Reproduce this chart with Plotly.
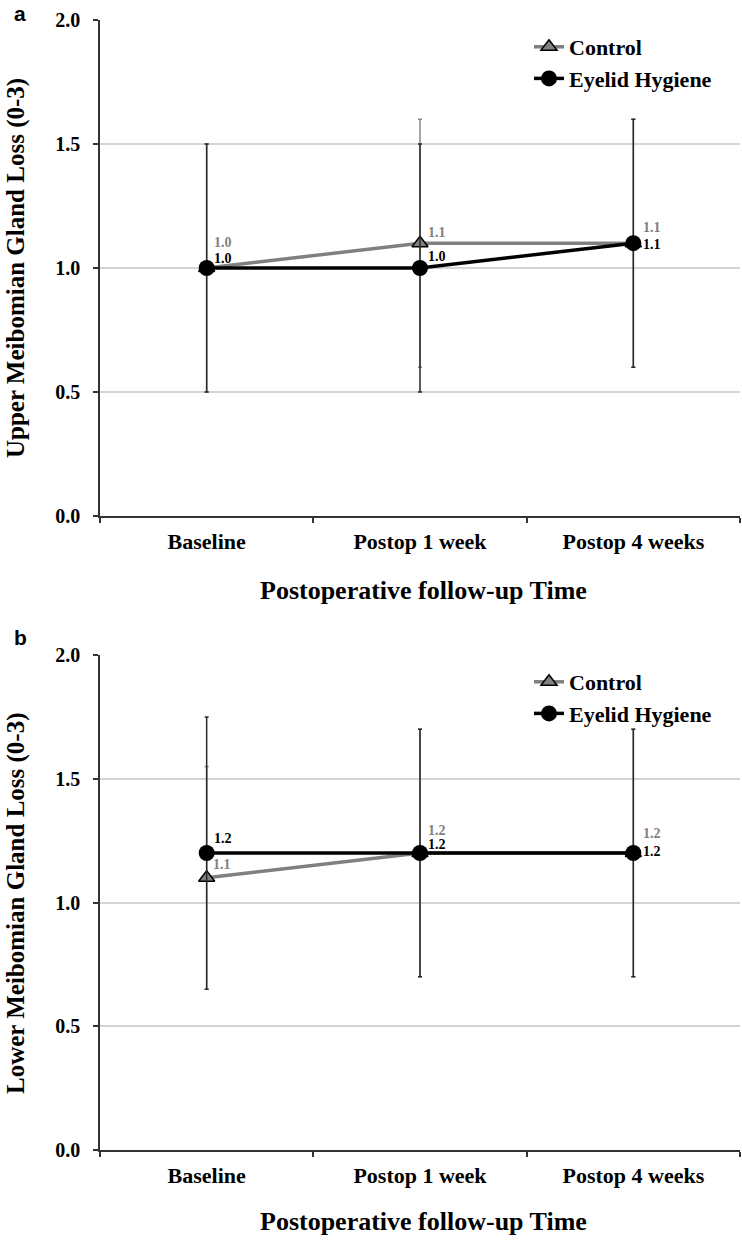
import plotly.graph_objects as go

categories = ["Baseline", "Postop 1 week", "Postop 4 weeks"]

# Panel a: Upper Meibomian Gland Loss
upper_control = [1.0, 1.1, 1.1]
upper_control_err = [0.5, 0.5, 0.5]
upper_eyelid = [1.0, 1.0, 1.1]
upper_eyelid_err = [0.5, 0.5, 0.5]

# Panel b: Lower Meibomian Gland Loss
lower_control = [1.1, 1.2, 1.2]
lower_control_err = [0.45, 0.5, 0.5]
lower_eyelid = [1.2, 1.2, 1.2]
lower_eyelid_err = [0.55, 0.5, 0.5]

y_ticks = [0.0, 0.5, 1.0, 1.5, 2.0]

# label offsets (pixels): (xshift, yshift)
upper_control_off = [(5, 26), (6, 11), (8, 16)]
upper_eyelid_off = [(5, 10), (6, 12), (8, -1)]
lower_control_off = [(4, 13), (6, 23), (8, 20)]
lower_eyelid_off = [(5, 15), (6, 9), (8, 2)]

SERIF = "Liberation Serif, Times New Roman, serif"
GRAY = "#808080"

W, H = 742, 1240
ML, MR, MT, MB = 100, 2, 20, 90
PW, PH = W - ML - MR, H - MT - MB


def px(xp):
    return (xp - ML) / PW


def py(yp):
    return (H - MB - yp) / PH


fig = go.Figure()


def add_panel(xa, ya, legend, ctrl, ctrl_err, eye, eye_err):
    fig.add_trace(go.Scatter(
        x=categories, y=ctrl, name="Control", mode="lines+markers",
        xaxis=xa, yaxis=ya, legend=legend,
        line=dict(color=GRAY, width=3.5),
        marker=dict(symbol="triangle-up", size=14, color=GRAY,
                    line=dict(color="black", width=1.5)),
        error_y=dict(type="data", array=ctrl_err, color="#8a8a8a",
                     thickness=1.5, width=2),
    ))
    fig.add_trace(go.Scatter(
        x=categories, y=eye, name="Eyelid Hygiene", mode="lines+markers",
        xaxis=xa, yaxis=ya, legend=legend,
        line=dict(color="black", width=3.5),
        marker=dict(symbol="circle", size=16, color="black"),
        error_y=dict(type="data", array=eye_err, color="#2a2a2a",
                     thickness=1.5, width=2),
    ))


add_panel("x", "y", "legend", upper_control, upper_control_err, upper_eyelid, upper_eyelid_err)
add_panel("x2", "y2", "legend2", lower_control, lower_control_err, lower_eyelid, lower_eyelid_err)

annotations = []


def add_labels(xref, yref, vals, offs, color):
    for c, v, (dx, dy) in zip(categories, vals, offs):
        annotations.append(dict(
            x=c, y=v, xref=xref, yref=yref, text=f"{v:.1f}", showarrow=False,
            xanchor="left", yanchor="middle", xshift=dx, yshift=dy,
            font=dict(family=SERIF, size=14, color=color, weight="bold"),
        ))


add_labels("x", "y", upper_control, upper_control_off, GRAY)
add_labels("x", "y", upper_eyelid, upper_eyelid_off, "black")
add_labels("x2", "y2", lower_control, lower_control_off, GRAY)
add_labels("x2", "y2", lower_eyelid, lower_eyelid_off, "black")

# panel letters
letter_font = dict(family="Liberation Sans, Arial, sans-serif", size=21, color="black", weight="bold")
annotations.append(dict(x=px(20), y=py(14), xref="paper", yref="paper", text="a",
                        showarrow=False, xanchor="center", yanchor="middle", font=letter_font,
                        borderpad=0))
annotations.append(dict(x=px(20), y=py(637), xref="paper", yref="paper", text="b",
                        showarrow=False, xanchor="center", yanchor="middle", font=letter_font,
                        borderpad=0))

# axis titles
title_font = dict(family=SERIF, size=25, color="black", weight="bold")
xtitle_font = dict(family=SERIF, size=26, color="black", weight="bold")
annotations.append(dict(x=px(16), y=py(268), xref="paper", yref="paper",
                        text="Upper Meibomian Gland Loss (0-3)", textangle=-90, showarrow=False,
                        xanchor="center", yanchor="middle", font=title_font))
annotations.append(dict(x=px(16), y=py(903), xref="paper", yref="paper",
                        text="Lower Meibomian Gland Loss (0-3)", textangle=-90, showarrow=False,
                        xanchor="center", yanchor="middle", font=title_font))
annotations.append(dict(x=px(423), y=py(590), xref="paper", yref="paper",
                        text="Postoperative follow-up Time", showarrow=False,
                        xanchor="center", yanchor="middle", font=xtitle_font))
annotations.append(dict(x=px(423), y=py(1221), xref="paper", yref="paper",
                        text="Postoperative follow-up Time", showarrow=False,
                        xanchor="center", yanchor="middle", font=xtitle_font))

xtick_font = dict(family=SERIF, size=22, color="black", weight="bold")
ytick_font = dict(family=SERIF, size=20, color="black", weight="bold")

xaxis_common = dict(
    type="category", range=[-0.5, 2.5], tickson="boundaries",
    showline=True, linecolor="#333333", linewidth=1.5,
    ticks="outside", ticklen=5, tickcolor="#333333", tickwidth=1.5,
    showgrid=False, tickfont=xtick_font, ticklabelstandoff=5,
    automargin=False, fixedrange=True,
)
yaxis_common = dict(
    range=[0, 2], tickvals=y_ticks, ticktext=[f"{t:.1f}" for t in y_ticks],
    showline=True, linecolor="#333333", linewidth=1.5,
    ticks="outside", ticklen=5, tickcolor="#333333", tickwidth=1.5,
    showgrid=True, gridcolor="#d4d4d4", gridwidth=1.5, zeroline=False,
    tickfont=ytick_font, ticklabelstandoff=9, automargin=False,
)

legend_common = dict(
    font=dict(family=SERIF, size=22, color="black", weight="bold"),
    bgcolor="rgba(0,0,0,0)", xanchor="left", yanchor="top",
    itemwidth=30, tracegroupgap=0,
)

fig.update_layout(
    width=W, height=H,
    margin=dict(l=ML, r=MR, t=MT, b=MB, autoexpand=False),
    paper_bgcolor="white", plot_bgcolor="white",
    showlegend=True,
    xaxis=dict(domain=[0, 1], anchor="y", **xaxis_common),
    yaxis=dict(domain=[py(516), py(20)], anchor="x", **yaxis_common),
    xaxis2=dict(domain=[0, 1], anchor="y2", **xaxis_common),
    yaxis2=dict(domain=[py(1150), py(655)], anchor="x2", **yaxis_common),
    legend=dict(x=px(529), y=py(26), **legend_common),
    legend2=dict(x=px(529), y=py(661), **legend_common),
    annotations=annotations,
)

fig.write_html("out.html", config={"displayModeBar": False},
               post_script="document.body.style.margin='0px';")
